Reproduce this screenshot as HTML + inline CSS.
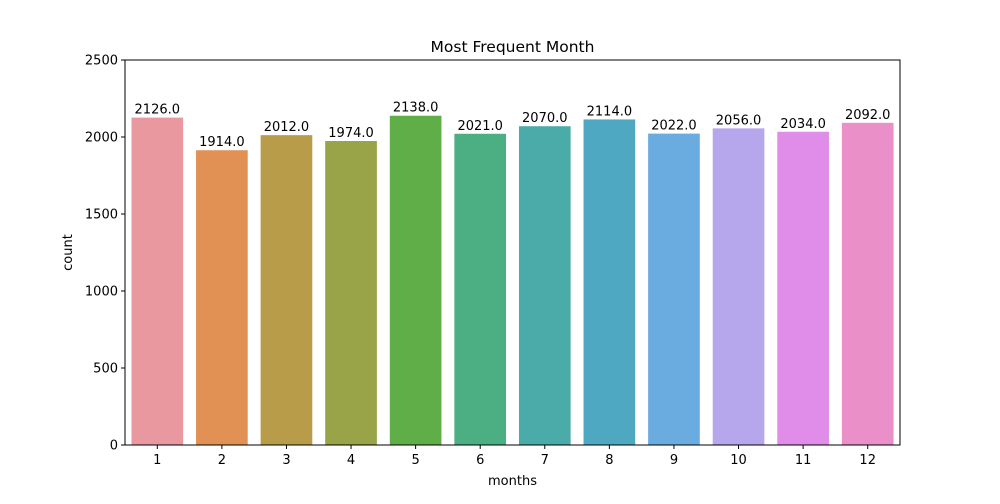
<!DOCTYPE html>
<html><head><meta charset="utf-8"><style>
body{margin:0;background:#fff;font-family:"DejaVu Sans","Liberation Sans",sans-serif;}
</style></head><body>
<svg id="chart" width="1000" height="500" xmlns="http://www.w3.org/2000/svg"></svg>
<script>
const categories=["1","2","3","4","5","6","7","8","9","10","11","12"];
const counts=[2126,1914,2012,1974,2138,2021,2070,2114,2022,2056,2034,2092];
const yTicks=[0,500,1000,1500,2000,2500];
const colors=["#ea98a0","#e19153","#b89c49","#99a348","#60ae47","#4caf84","#4aaba8","#4fa8c1","#6aabe0","#b6a7ec","#df8de8","#ea8fc7"];
const L=125,R=900,T=60,B=445,yMax=2500;
const svg=document.getElementById('chart');
const NS="http://www.w3.org/2000/svg";
function y(v){return B-(v/yMax)*(B-T);}
const band=(R-L)/categories.length;
function x(i){return L+band*i+band/2;}
function mk(tag,attrs,name,text){const e=document.createElementNS(NS,tag);for(const k in attrs)e.setAttribute(k,attrs[k]);


if(text!==undefined)e.textContent=text;svg.appendChild(e);return e;}
counts.forEach((v,i)=>{
 const w=band*0.8;
 mk('rect',{x:x(i)-w/2,y:y(v),width:w,height:B-y(v),fill:colors[i]},'bar-month-'+categories[i]);
 mk('text',{x:x(i),y:y(v)-4,'text-anchor':'middle','font-size':13,fill:'#000'},'bar-label-'+categories[i],v.toFixed(1));
});
mk('rect',{x:L,y:T,width:R-L,height:B-T,fill:'none',stroke:'#000','stroke-width':1},'axes-frame');
yTicks.forEach(t=>{
 mk('line',{x1:L-4,x2:L,y1:y(t),y2:y(t),stroke:'#000'},'y-tick');
 mk('text',{x:L-7,y:y(t)+4.5,'text-anchor':'end','font-size':13},'y-tick-label',String(t));
});
categories.forEach((c,i)=>{
 mk('line',{x1:x(i),x2:x(i),y1:B,y2:B+4,stroke:'#000'},'x-tick');
 mk('text',{x:x(i),y:B+19,'text-anchor':'middle','font-size':13},'x-tick-label',c);
});
mk('text',{x:(L+R)/2,y:485,'text-anchor':'middle','font-size':13},'x-axis-title','months');
mk('text',{x:72,y:(T+B)/2,'text-anchor':'middle','font-size':13,transform:'rotate(-90 72 '+((T+B)/2)+')'},'y-axis-title','count');
mk('text',{x:(L+R)/2,y:52,'text-anchor':'middle','font-size':15.5},'chart-title','Most Frequent Month');
</script>
</body></html>
